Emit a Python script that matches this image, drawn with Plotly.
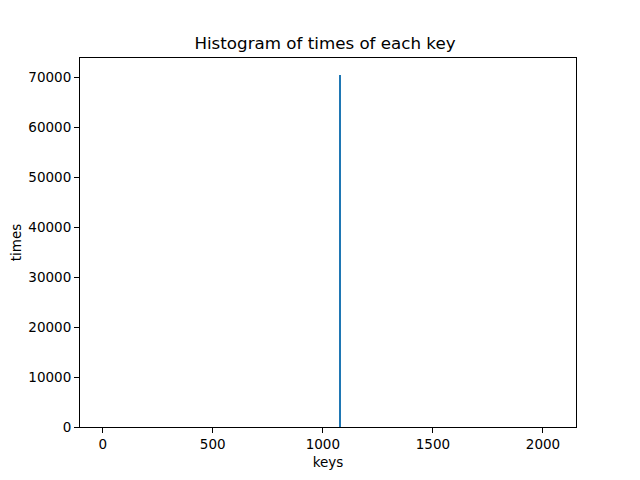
import plotly.graph_objects as go

# key -> number of times it was seen
keys = [1077]
times = [70400]

x_ticks = [0, 500, 1000, 1500, 2000]
y_ticks = [0, 10000, 20000, 30000, 40000, 50000, 60000, 70000]

# the page puts the plot 8px in from the top-left corner
off = 8

fig = go.Figure()
fig.add_trace(go.Bar(
    x=keys,
    y=times,
    width=2.5,
    marker=dict(color="#1f77b4", line=dict(width=0)),
))

axis_style = dict(
    showgrid=False,
    zeroline=False,
    showline=True,
    linecolor="black",
    linewidth=1,
    mirror=True,
    ticks="outside",
    ticklen=5,
    tickwidth=1,
    tickcolor="black",
    tickfont=dict(size=13.5, color="black"),
    automargin=False,
)

fig.update_layout(
    width=640,
    height=480,
    margin=dict(l=80 - off, r=64 + off, t=58 - off, b=53 + off),
    paper_bgcolor="white",
    plot_bgcolor="white",
    font=dict(family="DejaVu Sans", color="black"),
    title=dict(text="Histogram of times of each key", x=(325 - off) / 640,
               xanchor="center", y=1 - (43 - off) / 480, yanchor="middle",
               font=dict(size=16.7)),
    showlegend=False,
    bargap=0,
)
fig.update_xaxes(range=[-103, 2150], tickvals=x_ticks, ticktext=[str(v) for v in x_ticks],
                 title=dict(text="keys", font=dict(size=13.5), standoff=6), **axis_style)
fig.update_yaxes(range=[0, 73800], tickvals=y_ticks, ticktext=[str(v) for v in y_ticks],
                 title=dict(text="times", font=dict(size=13.5), standoff=10), **axis_style)

fig.write_html("out.html")
